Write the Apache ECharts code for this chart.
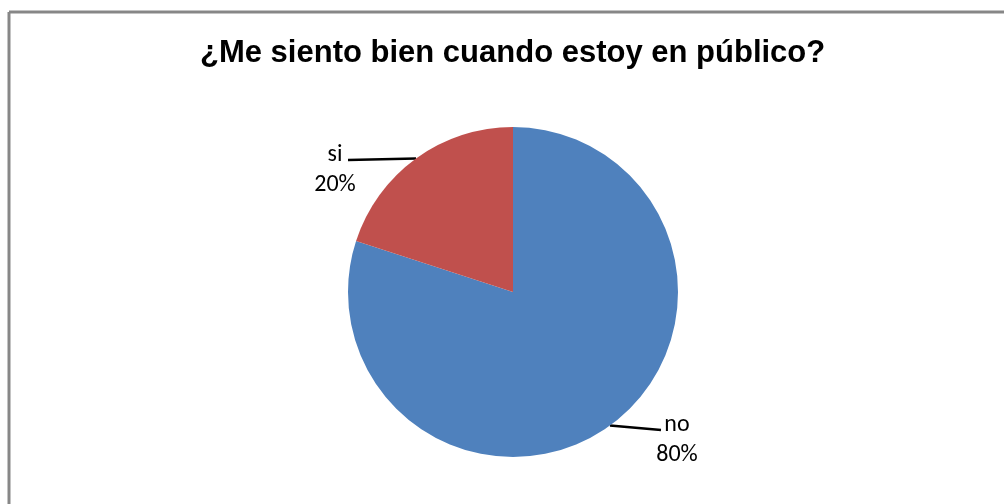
<!DOCTYPE html>
<html>
<head>
<meta charset="utf-8">
<script src="https://cdn.jsdelivr.net/npm/echarts@6/dist/echarts.min.js"></script>
<style>
  html, body { margin: 0; padding: 0; background: #ffffff; }
  #chart { width: 1004px; height: 504px; }
</style>
</head>
<body>
<div id="chart"></div>
<script>
// Survey answers and their shares
const categories = ['no', 'si'];
const values = [80, 20];
const colors = ['#4F81BD', '#C0504D'];
const titleText = '¿Me siento bien cuando estoy en público?';

// Label block placement (centre x, top y) and where its leader line stops
const labelSpots = {
  no: { x: 677, y: 410, lineEnd: [661, 430] },
  si: { x: 335, y: 140, lineEnd: [348, 160] }
};

const chart = echarts.init(document.getElementById('chart'), null, { renderer: 'canvas' });

const option = {
  animation: false,
  backgroundColor: '#ffffff',
  title: {
    text: titleText,
    left: 195,
    top: 33,
    textStyle: {
      fontFamily: 'Liberation Sans, Arial, sans-serif',
      fontWeight: 'bold',
      fontSize: 31,
      color: '#000000'
    }
  },
  graphic: [
    { type: 'line', shape: { x1: 9, y1: 12, x2: 1004, y2: 12 }, style: { stroke: '#878787', lineWidth: 3 } },
    { type: 'line', shape: { x1: 9, y1: 12, x2: 9, y2: 504 }, style: { stroke: '#878787', lineWidth: 3 } }
  ],
  series: [{
    type: 'pie',
    center: [513, 292],
    radius: [0, 165],
    startAngle: 90,
    clockwise: true,
    data: categories.map((c, i) => ({
      name: c,
      value: values[i],
      itemStyle: { color: colors[i] }
    })),
    label: {
      show: true,
      position: 'outside',
      formatter: '{b}\n{d}%',
      fontFamily: 'Carlito, Lato, sans-serif',
      fontSize: 24,
      lineHeight: 30,
      color: '#000000',
      align: 'center'
    },
    labelLine: {
      show: true,
      length: 0,
      length2: 40,
      lineStyle: { color: '#000000', width: 2.5 }
    },
    labelLayout: function (params) {
      const spot = labelSpots[categories[params.dataIndex]];
      const start = params.labelLinePoints ? params.labelLinePoints[0] : spot.lineEnd;
      return {
        x: spot.x,
        y: spot.y,
        align: 'center',
        verticalAlign: 'top',
        labelLinePoints: [start, spot.lineEnd, spot.lineEnd]
      };
    },
    emphasis: { disabled: true }
  }]
};

chart.setOption(option);
</script>
</body>
</html>
